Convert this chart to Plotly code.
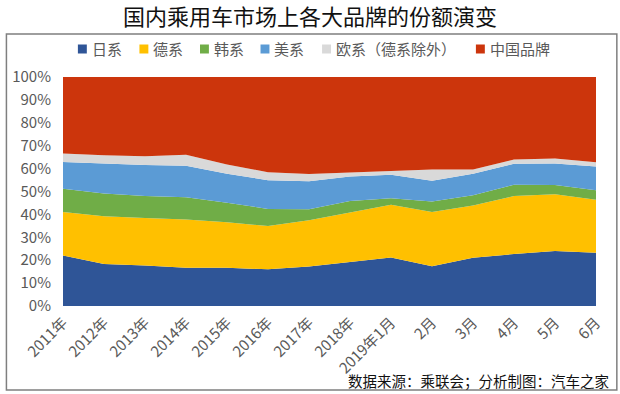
import plotly.graph_objects as go

categories = ["2011年", "2012年", "2013年", "2014年", "2015年", "2016年", "2017年",
              "2018年", "2019年1月", "2月", "3月", "4月", "5月", "6月"]

# shares (%)
japan   = [22.1, 18.3, 17.7, 16.7, 16.7, 16.0, 17.3, 19.2, 21.2, 17.4, 21.1, 22.7, 24.0, 23.3]
germany = [19.0, 20.9, 20.7, 21.1, 19.9, 18.9, 20.2, 21.8, 23.0, 23.6, 22.8, 25.3, 24.8, 23.1]
korea   = [10.1,  9.9,  9.6,  9.7,  8.5,  7.5,  4.7,  4.8,  2.9,  4.6,  4.5,  4.9,  4.0,  4.2]
usa     = [11.7, 13.1, 13.6, 13.7, 12.7, 12.5, 12.3, 10.7, 10.2,  9.1,  9.4,  9.2,  9.4, 10.3]
europe  = [ 3.7,  3.6,  3.8,  4.8,  4.0,  3.5,  3.1,  1.9,  1.6,  4.9,  1.8,  1.9,  2.2,  1.9]
china   = [33.4, 34.2, 34.6, 34.0, 38.2, 41.6, 42.4, 41.6, 41.1, 40.4, 40.4, 36.0, 35.6, 37.2]

series_names = ["日系", "德系", "韩系", "美系", "欧系（德系除外）", "中国品牌"]
series_vals = [japan, germany, korea, usa, europe, china]
colors = ["#2F5597", "#FFC000", "#70AD47", "#5B9BD5", "#D9D9D9", "#CC350C"]

FONT = "Noto Sans CJK SC"

# plot-area geometry in pixels
W, H = 620, 394
PL, PR, PT, PB = 59, 596, 77, 306
PW, PH = PR - PL, PB - PT


def px(x):
    return (x - PL) / PW


def py(y):
    return (PB - y) / PH


fig = go.Figure()
for name, vals, col in zip(series_names, series_vals, colors):
    fig.add_trace(go.Scatter(
        x=categories, y=vals, name=name, mode="lines",
        stackgroup="one", groupnorm="percent",
        line=dict(width=0, color=col), fillcolor=col,
        hoverinfo="skip", showlegend=False,
    ))

# legend drawn as squares + labels (Excel-style small square keys)
legend_x = [74, 136, 197, 258, 320, 475]
shapes = [dict(type="rect", xref="paper", yref="paper",
               x0=px(2), x1=px(617), y0=py(390), y1=py(34),
               line=dict(color="#7F7F7F", width=1.5), fillcolor="rgba(0,0,0,0)", layer="below")]
annotations = []
for name, col, lx in zip(series_names, colors, legend_x):
    shapes.append(dict(type="rect", xref="paper", yref="paper",
                       x0=px(lx), x1=px(lx + 9), y0=py(49 + 4.5), y1=py(49 - 4.5),
                       line=dict(width=0), fillcolor=col))
    annotations.append(dict(text=name, xref="paper", yref="paper", x=px(lx + 12), xanchor="left",
                            y=py(49), yanchor="middle", showarrow=False,
                            font=dict(size=15, color="#595959", family=FONT)))

annotations.append(dict(text="数据来源：乘联会；分析制图：汽车之家", xref="paper", yref="paper",
                        x=px(611), xanchor="right", y=py(380), yanchor="middle",
                        showarrow=False, font=dict(size=14.5, color="#111111", family=FONT)))

fig.update_layout(
    width=W, height=H,
    margin=dict(l=PL, r=W - PR, t=PT, b=H - PB),
    paper_bgcolor="white", plot_bgcolor="white",
    font=dict(family=FONT, color="#595959"),
    title=dict(text="国内乘用车市场上各大品牌的份额演变", x=0.5, xanchor="center",
               y=1 - 17 / H, yanchor="middle", yref="container",
               font=dict(size=22, color="#111111", family=FONT)),
    showlegend=False,
    xaxis=dict(type="category", range=[0, len(categories) - 1], tickangle=-45,
               showgrid=False, showline=False, ticks="", zeroline=False,
               ticklabelstandoff=4,
               tickfont=dict(size=15, color="#595959", family=FONT)),
    yaxis=dict(range=[0, 100], dtick=10, ticksuffix="%", showgrid=False, zeroline=False,
               showline=False, ticks="", ticklabelstandoff=11,
               tickfont=dict(size=15, color="#595959", family=FONT)),
    shapes=shapes,
    annotations=annotations,
)

fig.write_html("out.html", config={"displayModeBar": False},
               post_script="document.body.style.margin='0';document.body.style.overflow='hidden';")
